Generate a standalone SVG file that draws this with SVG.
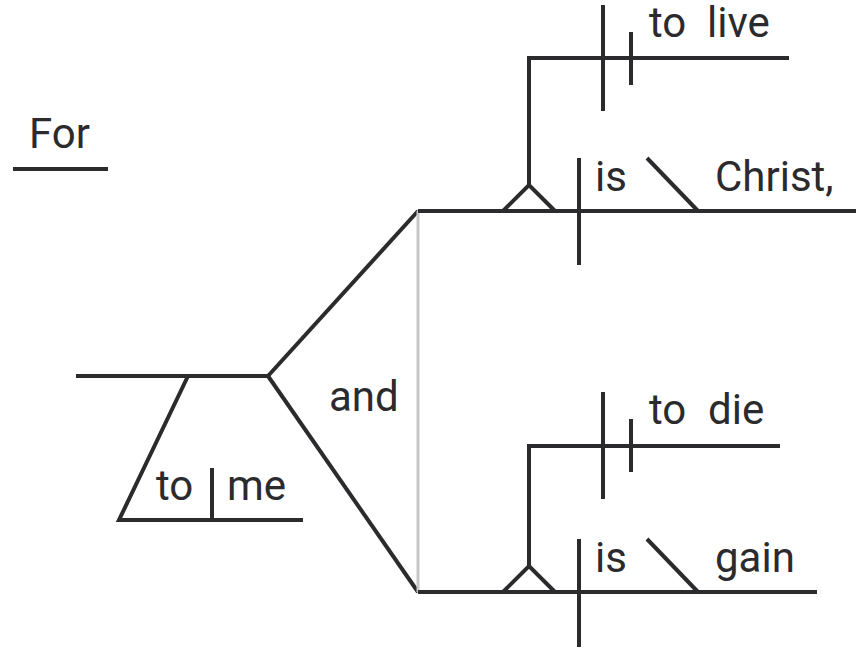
<svg xmlns="http://www.w3.org/2000/svg" width="864" height="654" viewBox="0 0 864 654">
<style>
.l{stroke:#2b2b2e;stroke-width:4;fill:none;stroke-linecap:butt;stroke-linejoin:miter}
.g{stroke:#c8c8c8;stroke-width:3;fill:none}
text{font-family:Roboto,"Liberation Sans",sans-serif;font-size:42px;fill:#2b2b2e}
</style>
<rect width="864" height="654" fill="#fff"/>
<g id="connectors">
<path class="l" d="M268,376 L418,211"/>
<path class="l" d="M268,376 L418,592"/>
<path class="g" d="M418,211 L418,592"/>
</g>
<g id="for">
<path class="l" d="M13,169 H108"/>
<text x="29" y="148">For</text>
</g>
<g id="main">
<path class="l" d="M76,376 H268"/>
</g>
<g id="to-me">
<path class="l" d="M188,376 L119,520 H303 M212,468 V520"/>
<text x="156" y="500">to</text>
<text x="227" y="500">me</text>
</g>
<g id="and">
<text x="329" y="411">and</text>
</g>
<g id="clause1">
<path class="l" d="M418,211 H856 M503,211 L529,185 L555,211 M529,185 V58 H789 M603,5 V111 M631,32 V85 M579,158 V265"/>
<path class="l" d="M647,158 L698,211"/>
<text x="649" y="37">to</text>
<text x="707" y="37">live</text>
<text x="595" y="191">is</text>
<text x="715" y="191">Christ,</text>
</g>
<g id="clause2">
<path class="l" d="M418,592 H817 M503,592 L529,566 L555,592 M529,566 V446 H780 M603,392 V499 M631,419 V472 M579,539 V647"/>
<path class="l" d="M647,539 L698,592"/>
<text x="649" y="424">to</text>
<text x="708" y="424">die</text>
<text x="595" y="572">is</text>
<text x="715" y="572">gain</text>
</g>
</svg>
